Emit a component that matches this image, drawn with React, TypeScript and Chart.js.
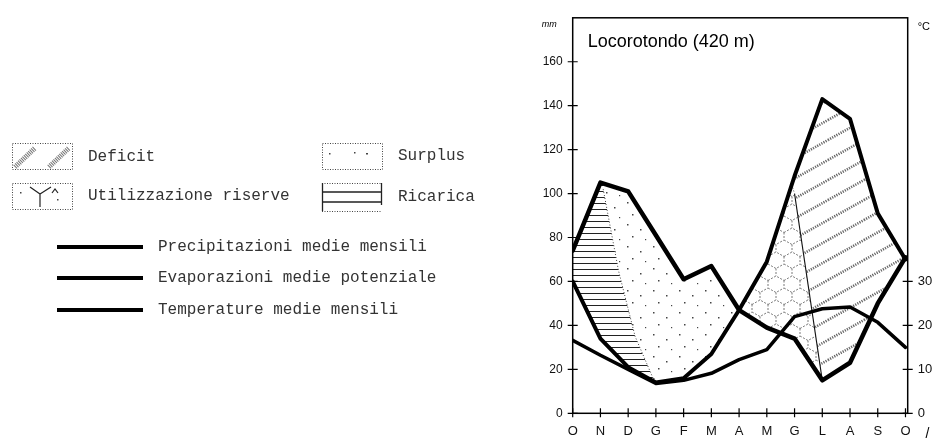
import React, { useEffect, useRef } from 'react';
import { Chart, registerables } from 'chart.js';
Chart.register(...registerables);

// ---- data ----
const months = ['O', 'N', 'D', 'G', 'F', 'M', 'A', 'M', 'G', 'L', 'A', 'S', 'O'];
const precipitation = [74, 105, 101, 81, 61, 67, 47, 39, 34, 15, 23, 50, 71];
const evapotranspiration = [60, 34, 21, 14, 16, 27, 47, 69, 108, 143, 134, 91, 70];
const temperature = [16.6, 13.2, 10, 6.8, 7.5, 9.1, 12.2, 14.5, 22, 23.8, 24.2, 20.7, 15];
const mmTicks = [0, 20, 40, 60, 80, 100, 120, 140, 160];
const cTicks = [0, 10, 20, 30];
const rechargeEdgeX = [1.1, 1.65, 2.25, 2.95];
const rechargeEdgeY = [102, 65, 35, 14.4];
const usageEdgeX = [7.9, 8.0, 9.0];
const usageEdgeY = [104, 100, 15];
const chartTitle = 'Locorotondo (420 m)';
const areaLegend = ['Deficit', 'Utilizzazione riserve', 'Surplus', 'Ricarica'];
const lineLegend = ['Precipitazioni medie mensili', 'Evaporazioni medie potenziale', 'Temperature medie mensili'];

const SANS = '"Liberation Sans", Arial, sans-serif';
const MONO = '"Liberation Mono", "DejaVu Sans Mono", monospace';

type Pt = [number, number];
const valAt = (s: number[], x: number) => {
  const i = Math.min(Math.floor(x), s.length - 2);
  const t = x - i;
  return s[i] + (s[i + 1] - s[i]) * t;
};
const path = (s: number[], x0: number, x1: number): Pt[] => {
  const pts: Pt[] = [[x0, valAt(s, x0)]];
  if (x1 > x0) {
    for (let i = Math.floor(x0) + 1; i < x1; i++) pts.push([i, s[i]]);
  } else {
    for (let i = Math.ceil(x0) - 1; i > x1; i--) pts.push([i, s[i]]);
  }
  pts.push([x1, valAt(s, x1)]);
  return pts;
};
const crossing = (a: number[], b: number[], from: number, to: number) => {
  for (let i = Math.floor(from); i < to; i++) {
    const d0 = a[i] - b[i];
    const d1 = a[i + 1] - b[i + 1];
    if (d0 === 0) return i;
    if (d0 * d1 < 0 || d1 === 0) return i + d0 / (d0 - d1);
  }
  return to;
};

function makePattern(ctx: CanvasRenderingContext2D, w: number, h: number, draw: (g: CanvasRenderingContext2D) => void) {
  const c = document.createElement('canvas');
  c.width = w;
  c.height = h;
  const g = c.getContext('2d')!;
  draw(g);
  return ctx.createPattern(c, 'repeat')!;
}

function patterns(ctx: CanvasRenderingContext2D) {
  const recharge = makePattern(ctx, 8, 6, (g) => {
    g.fillStyle = '#222';
    g.fillRect(0, 5, 8, 1.2);
  });
  const surplus = makePattern(ctx, 26, 22, (g) => {
    g.fillStyle = '#444';
    g.fillRect(3, 4, 1.5, 1.5);
    g.fillRect(16, 9, 1.5, 1.5);
    g.fillRect(8, 16, 1.5, 1.5);
    g.fillRect(21, 19, 1.2, 1.2);
  });
  const usage = makePattern(ctx, 16, 24, (g) => {
    g.strokeStyle = '#555';
    g.lineWidth = 0.8;
    g.setLineDash([2, 1.5]);
    g.beginPath();
    g.moveTo(0, 0); g.lineTo(8, 4.5); g.lineTo(16, 0);
    g.moveTo(8, 4.5); g.lineTo(8, 12);
    g.moveTo(0, 16.5); g.lineTo(8, 12); g.lineTo(16, 16.5);
    g.moveTo(0, 16.5); g.lineTo(0, 24);
    g.moveTo(16, 16.5); g.lineTo(16, 24);
    g.stroke();
  });
  const W = 36, H = 20;
  const deficit = makePattern(ctx, W, H, (g) => {
    g.strokeStyle = '#666';
    g.lineWidth = 2.6;
    g.setLineDash([1.2, 1.2]);
    for (const [dx, dy] of [[0, 0], [-W, 0], [W, 0], [0, -H], [0, H]]) {
      g.beginPath();
      g.moveTo(dx, H + dy);
      g.lineTo(W + dx, dy);
      g.stroke();
    }
  });
  return { recharge, surplus, usage, deficit };
}

const regionsPlugin = {
  id: 'regions',
  beforeDatasetsDraw(chart: any) {
    const { ctx, chartArea: a, scales } = chart;
    const X = (v: number) => scales.x.getPixelForValue(v);
    const Y = (v: number) => scales.y.getPixelForValue(v);
    const P = precipitation, E = evapotranspiration;
    const c1 = crossing(P, E, 3, 8);
    const c2 = crossing(P, E, 9, 12);
    const rEdge: Pt[] = rechargeEdgeX.map((x, i) => [x, rechargeEdgeY[i]]);
    const uEdge: Pt[] = usageEdgeX.map((x, i) => [x, usageEdgeY[i]]);
    const rLast = rechargeEdgeX[rechargeEdgeX.length - 1];
    const recharge: Pt[] = [...path(P, 0, rechargeEdgeX[0]), ...rEdge, ...path(E, rLast, 0)];
    const surplus: Pt[] = [...path(P, rechargeEdgeX[0], c1), ...path(E, c1, rLast), ...rEdge.slice().reverse()];
    const usage: Pt[] = [...path(E, c1, usageEdgeX[0]), uEdge[1], uEdge[2], ...path(P, usageEdgeX[2], c1)];
    const deficit: Pt[] = [...path(E, usageEdgeX[0], c2), ...path(P, c2, usageEdgeX[2]), uEdge[1]];
    const pat = patterns(ctx);
    const fillPoly = (pts: Pt[], style: any) => {
      ctx.beginPath();
      pts.forEach(([x, y], i) => (i ? ctx.lineTo(X(x), Y(y)) : ctx.moveTo(X(x), Y(y))));
      ctx.closePath();
      ctx.fillStyle = style;
      ctx.fill();
    };
    ctx.save();
    ctx.beginPath();
    ctx.rect(a.left, a.top, a.right - a.left, a.bottom - a.top);
    ctx.clip();
    fillPoly(recharge, pat.recharge);
    fillPoly(surplus, pat.surplus);
    fillPoly(usage, pat.usage);
    fillPoly(deficit, pat.deficit);
    ctx.strokeStyle = '#444';
    ctx.lineWidth = 1;
    ctx.setLineDash([1, 2]);
    ctx.beginPath();
    rEdge.forEach(([x, y], i) => (i ? ctx.lineTo(X(x), Y(y)) : ctx.moveTo(X(x), Y(y))));
    ctx.stroke();
    ctx.beginPath();
    ctx.moveTo(X(uEdge[0][0]), Y(uEdge[0][1]));
    ctx.lineTo(X(uEdge[1][0]), Y(uEdge[1][1]));
    ctx.stroke();
    ctx.setLineDash([]);
    ctx.strokeStyle = '#111';
    ctx.lineWidth = 1.1;
    ctx.beginPath();
    ctx.moveTo(X(uEdge[1][0]), Y(uEdge[1][1]));
    ctx.lineTo(X(uEdge[2][0]), Y(uEdge[2][1]));
    ctx.stroke();
    ctx.restore();
  },
};

const decorPlugin = {
  id: 'decor',
  afterDraw(chart: any) {
    const { ctx, chartArea: a, scales } = chart;
    ctx.save();
    ctx.strokeStyle = '#000';
    ctx.lineWidth = 1.5;
    ctx.strokeRect(a.left, a.top, a.right - a.left, a.bottom - a.top);
    ctx.lineWidth = 1.2;
    ctx.beginPath();
    months.forEach((_, i) => {
      const x = scales.x.getPixelForValue(i);
      ctx.moveTo(x, a.bottom - 5);
      ctx.lineTo(x, a.bottom + 4);
    });
    mmTicks.forEach((v) => {
      const y = scales.y.getPixelForValue(v);
      ctx.moveTo(a.left - 5, y);
      ctx.lineTo(a.left + 5, y);
    });
    cTicks.forEach((v) => {
      const y = scales.y1.getPixelForValue(v);
      ctx.moveTo(a.right - 5, y);
      ctx.lineTo(a.right + 5, y);
    });
    ctx.stroke();
    ctx.fillStyle = '#000';
    ctx.textBaseline = 'alphabetic';
    ctx.textAlign = 'left';
    ctx.font = `18px ${SANS}`;
    ctx.fillText(chartTitle, a.left + 15, 47);
    ctx.font = `italic 9px ${SANS}`;
    ctx.fillText('mm', a.left - 31, 27);
    ctx.font = `11px ${SANS}`;
    ctx.fillText('°C', a.right + 10, 30);
    ctx.font = `14px ${SANS}`;
    ctx.fillText('/', scales.x.getPixelForValue(12) + 20, 438);

    const dotted = () => { ctx.setLineDash([1, 1.5]); ctx.strokeStyle = '#444'; ctx.lineWidth = 1; };
    dotted();
    ctx.strokeRect(12.5, 143.5, 60, 26);
    ctx.strokeRect(12.5, 183.5, 60, 26);
    ctx.strokeRect(322.5, 143.5, 60, 26);
    ctx.lineWidth = 5;
    ctx.strokeStyle = '#777';
    ctx.setLineDash([1, 1]);
    ctx.beginPath();
    ctx.moveTo(15, 167); ctx.lineTo(35, 148);
    ctx.moveTo(49, 167); ctx.lineTo(69, 148);
    ctx.stroke();
    ctx.setLineDash([]);
    ctx.strokeStyle = '#222';
    ctx.lineWidth = 1.2;
    ctx.beginPath();
    ctx.moveTo(30, 187); ctx.lineTo(40, 194); ctx.lineTo(51, 187);
    ctx.moveTo(40, 194); ctx.lineTo(40, 207);
    ctx.moveTo(52, 193); ctx.lineTo(55, 189); ctx.lineTo(58, 193);
    ctx.stroke();
    ctx.fillStyle = '#444';
    ctx.fillRect(20, 192, 1.5, 1.5);
    ctx.fillRect(57, 199, 1.5, 1.5);
    ctx.fillRect(329, 153, 1.5, 1.5);
    ctx.fillRect(354, 152, 1.5, 1.5);
    ctx.fillRect(366, 153, 2, 1.5);
    dotted();
    ctx.beginPath();
    ctx.moveTo(322, 183.5); ctx.lineTo(382, 183.5);
    ctx.moveTo(322, 211.5); ctx.lineTo(382, 211.5);
    ctx.stroke();
    ctx.setLineDash([]);
    ctx.strokeStyle = '#222';
    ctx.lineWidth = 1.3;
    ctx.beginPath();
    ctx.moveTo(322, 192); ctx.lineTo(382, 192);
    ctx.moveTo(322, 202); ctx.lineTo(382, 202);
    ctx.moveTo(322.5, 183); ctx.lineTo(322.5, 211);
    ctx.moveTo(381.5, 183); ctx.lineTo(381.5, 205);
    ctx.stroke();
    ctx.strokeStyle = '#000';
    ctx.lineWidth = 4;
    const lineYs = [247, 278, 310];
    ctx.beginPath();
    lineYs.forEach((y) => { ctx.moveTo(57, y); ctx.lineTo(143, y); });
    ctx.stroke();
    ctx.fillStyle = '#333';
    ctx.font = `16px ${MONO}`;
    ctx.textBaseline = 'middle';
    ctx.fillText(areaLegend[0], 88, 157);
    ctx.fillText(areaLegend[1], 88, 196);
    ctx.fillText(areaLegend[2], 398, 156);
    ctx.fillText(areaLegend[3], 398, 197);
    lineLegend.forEach((t, i) => ctx.fillText(t, 158, lineYs[i]));
    ctx.restore();
  },
};

export default function App() {
  const ref = useRef<HTMLCanvasElement>(null);
  useEffect(() => {
    const canvas = ref.current!;
    const line = (data: number[], width: number, axis: string) => ({
      data: data.map((v, i) => ({ x: i, y: v })),
      borderColor: '#000',
      backgroundColor: '#000',
      borderWidth: width,
      pointRadius: 0,
      tension: 0,
      fill: false,
      borderJoinStyle: 'round' as const,
      borderCapStyle: 'round' as const,
      yAxisID: axis,
    });
    const chart = new Chart(canvas, {
      type: 'line',
      data: {
        datasets: [
          line(precipitation, 4.5, 'y'),
          line(evapotranspiration, 4, 'y'),
          line(temperature, 3.5, 'y1'),
        ] as any,
      },
      options: {
        animation: false,
        responsive: false,
        devicePixelRatio: 1,
        layout: { padding: { left: 532.7, right: 0.3, top: 15, bottom: 3.7 } },
        plugins: { legend: { display: false }, tooltip: { enabled: false }, title: { display: false } },
        scales: {
          x: {
            type: 'linear',
            min: 0,
            max: 12.08,
            afterBuildTicks: (s: any) => { s.ticks = months.map((_, i) => ({ value: i })); },
            afterFit: (s: any) => { s.height = 22; },
            ticks: {
              callback: (v: any) => months[v] ?? '',
              font: { family: SANS, size: 13 },
              color: '#111',
              padding: 10,
              maxRotation: 0,
              autoSkip: false,
            },
            grid: { display: false, drawTicks: false },
            border: { display: false },
          },
          y: {
            position: 'left',
            min: 0,
            max: 180,
            afterBuildTicks: (s: any) => { s.ticks = mmTicks.map((v) => ({ value: v })); },
            afterFit: (s: any) => { s.width = 40; },
            ticks: { font: { family: SANS, size: 12 }, color: '#111', padding: 10 },
            grid: { display: false, drawTicks: false },
            border: { display: false },
          },
          y1: {
            position: 'right',
            min: 0,
            max: 90,
            afterBuildTicks: (s: any) => { s.ticks = cTicks.map((v) => ({ value: v })); },
            afterFit: (s: any) => { s.width = 26; },
            ticks: { font: { family: SANS, size: 13 }, color: '#111', padding: 10 },
            grid: { display: false, drawTicks: false },
            border: { display: false },
          },
        },
      } as any,
      plugins: [regionsPlugin, decorPlugin],
    });
    return () => chart.destroy();
  }, []);
  return (
    <div style={{ position: 'fixed', left: 0, top: 0, width: 934, height: 439, background: '#fff' }}>
      <canvas ref={ref} width={934} height={439} style={{ display: 'block', width: 934, height: 439 }} />
    </div>
  );
}
